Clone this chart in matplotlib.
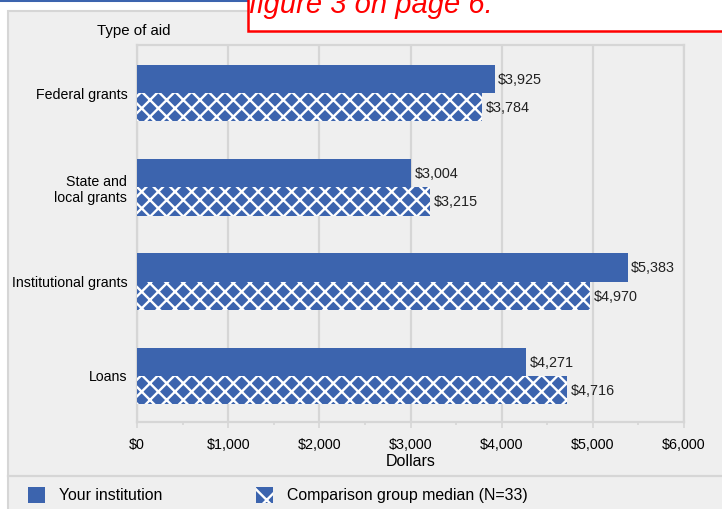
import matplotlib
matplotlib.use('Agg')
import matplotlib.pyplot as plt
from matplotlib.patches import Rectangle
from matplotlib.lines import Line2D
from matplotlib.ticker import MultipleLocator, FuncFormatter
import numpy as np

plt.rc("font", family=["Liberation Sans", "DejaVu Sans"], size=10.3)
plt.rc("hatch", linewidth=1.7, color="white")

categories = ["Federal grants", "State and\nlocal grants", "Institutional grants", "Loans"]
your_inst = [3925, 3004, 5383, 4271]
comparison = [3784, 3215, 4970, 4716]
series_names = ["Your institution", "Comparison group median (N=33)"]

W, H = 722, 510
blue = "#3c64ae"
panel = "#efefef"
grey = "#d6d6d6"

def fx(px):
    return px / W

def fy(py):
    return 1 - py / H

fig = plt.figure(figsize=(W / 100, H / 100), dpi=100)
fig.patch.set_facecolor("white")

# background panel + header bits
fig.add_artist(Rectangle((fx(8), fy(530)), fx(730), 518 / H, transform=fig.transFigure,
                         facecolor=panel, edgecolor=grey, lw=1.5, zorder=0))
fig.add_artist(Line2D([fx(8), fx(722)], [fy(477), fy(477)], transform=fig.transFigure,
                      color=grey, lw=1.6))
fig.add_artist(Line2D([0, fx(247)], [fy(1), fy(1)], transform=fig.transFigure,
                      color=blue, lw=2.2))
fig.add_artist(Rectangle((fx(248), fy(32)), fx(500), 50 / H, transform=fig.transFigure,
                         facecolor="white", edgecolor="#ff0000", lw=1.8, zorder=3))
fig.text(fx(249), fy(13), "figure 3 on page 6.", color="#ff0000", style="italic",
         fontsize=21, ha="left", va="baseline", zorder=4)
fig.text(fx(134), fy(31), "Type of aid", fontsize=10.8, ha="center", va="center")

ax = fig.add_axes([fx(137), fy(423), fx(684 - 137), (423 - 46) / H])
ax.set_facecolor(panel)

y = np.arange(len(categories)) + 0.5
h = 0.3
b1 = ax.barh(y - 0.14, your_inst, height=h, color=blue, lw=0, zorder=3)
b2 = ax.barh(y + 0.16, comparison, height=h, color=blue, edgecolor="white",
             hatch="xx", lw=0, zorder=3)

for bars, vals in ((b1, your_inst), (b2, comparison)):
    for r, v in zip(bars, vals):
        ax.annotate(f"${v:,}", (v, r.get_y() + r.get_height() / 2), xytext=(2.5, 0),
                    textcoords="offset points", ha="left", va="center",
                    fontsize=10.4, color="#222222", zorder=4)

ax.set_xlim(0, 6000)
ax.set_ylim(4, 0)
ax.set_yticks(y)
ax.set_yticklabels(categories, ha="right", fontsize=10.2)
ax.tick_params(axis="y", length=0, pad=7)
ax.xaxis.set_major_locator(MultipleLocator(1000))
ax.xaxis.set_minor_locator(MultipleLocator(500))
ax.xaxis.set_major_formatter(FuncFormatter(lambda v, p: f"${v:,.0f}"))
ax.tick_params(axis="x", which="major", length=4.5, width=1.2, color=grey, pad=6)
ax.tick_params(axis="x", which="minor", length=2.5, width=1.2, color=grey)
ax.grid(axis="x", color=grey, lw=1.6, zorder=1)
ax.set_axisbelow(True)
for s in ax.spines.values():
    s.set_color(grey)
    s.set_linewidth(1.6)
ax.set_xlabel("Dollars", fontsize=11.5, labelpad=2)

# legend
fig.add_artist(Rectangle((fx(28), fy(504)), fx(17), 16 / H, transform=fig.transFigure,
                         facecolor=blue, lw=0))
fig.add_artist(Rectangle((fx(256), fy(504)), fx(17), 16 / H, transform=fig.transFigure,
                         facecolor=blue, edgecolor="white", hatch="x", lw=0))
fig.text(fx(59), fy(496), series_names[0], fontsize=11.4, va="center")
fig.text(fx(287), fy(496), series_names[1], fontsize=11.4, va="center")

fig.savefig("out.png", dpi=100)
